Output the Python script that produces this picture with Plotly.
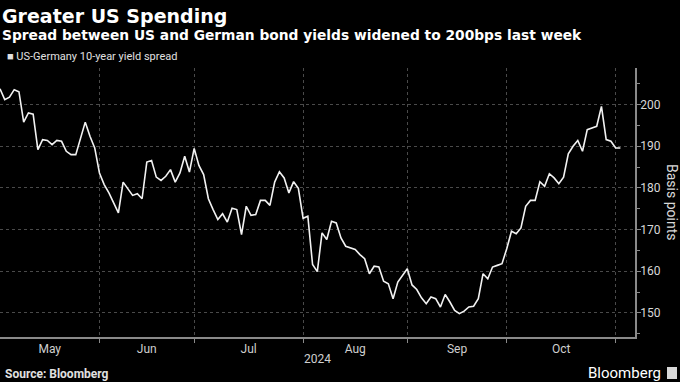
import pandas as pd
import plotly.graph_objects as go

# ---- data (basis points), one value per business day ----
start_date = "2024-05-03"
spread_bp = [
    203.8, 201.2, 201.8, 203.6, 203.1, 195.8, 198.0, 197.7, 189.2, 191.6,
    191.4, 190.4, 191.4, 191.2, 188.8, 188.0, 188.0, 191.8, 195.8, 192.4,
    189.6, 183.6, 180.8, 178.8, 176.3, 174.0, 181.4, 179.8, 178.2, 178.6,
    177.4, 186.2, 186.6, 182.6, 181.8, 182.8, 184.4, 181.4, 183.6, 187.6,
    183.8, 189.5, 185.4, 183.2, 177.4, 174.8, 172.4, 173.8, 171.8, 175.1,
    174.8, 168.8, 175.6, 173.4, 173.6, 177.0, 177.0, 175.8, 181.4, 183.9,
    182.4, 178.8, 181.5, 179.9, 172.7, 173.2, 161.6, 159.9, 169.2, 167.6,
    172.0, 171.6, 168.0, 166.0, 165.6, 165.2, 164.0, 163.0, 159.4, 161.2,
    161.0, 157.6, 157.0, 153.4, 157.4, 159.0, 160.6, 156.7, 155.6, 153.6,
    152.2, 153.8, 153.4, 151.4, 154.4, 152.6, 150.6, 149.8, 150.4, 151.4,
    151.6, 153.4, 159.4, 158.2, 161.0, 161.4, 161.8, 165.4, 169.6, 169.0,
    170.4, 175.6, 177.0, 177.0, 181.5, 180.4, 183.4, 182.4, 181.0, 182.6,
    188.2, 190.0, 191.4, 188.8, 194.0, 194.4, 194.8, 199.6, 191.6, 191.2,
    189.6, 189.6,
]
dates = pd.bdate_range(start_date, periods=len(spread_bp))

month_labels = ["May", "Jun", "Jul", "Aug", "Sep", "Oct"]
month_starts = ["2024-06-03", "2024-07-01", "2024-08-01", "2024-09-02",
                "2024-10-01", "2024-11-01"]
y_ticks = [150, 160, 170, 180, 190, 200]
x_end = "2024-11-07 02:00"

# ---- geometry helpers ----
W, H = 680, 382
L, R, T, B = 0, 45, 68, 45
PH = H - T - B
PW = W - L - R


def py(ypx):
    return (H - B - ypx) / PH


def px(xpx):
    return (xpx - L) / PW


def bday_pos(start, k):
    whole = int(k)
    frac = k - whole
    d = pd.Timestamp(start) + pd.offsets.BDay(whole)
    return d + pd.Timedelta(hours=24 * frac)


# month label positions: middle of each month's visible business-day span
bounds = [pd.Timestamp(start_date)] + [pd.Timestamp(s) for s in month_starts]
label_pos = []
for a, b in zip(bounds[:-1], bounds[1:]):
    n = len(pd.bdate_range(a, b)) - 1
    label_pos.append(bday_pos(a, n / 2))

fig = go.Figure()
fig.add_trace(go.Scatter(
    x=dates, y=spread_bp, mode="lines",
    line=dict(color="#f2f2f2", width=1.6),
    name="US-Germany 10-year yield spread",
    hoverinfo="x+y",
))

grid_col = "#4a4a4a"
axis_col = "#8a8a8a"
font_fam = "Roboto, 'Noto Sans', sans-serif"
title_fam = "'DejaVu Sans', sans-serif"

fig.update_layout(
    width=W, height=H,
    margin=dict(l=L, r=R, t=T, b=B),
    paper_bgcolor="#000000", plot_bgcolor="#000000",
    showlegend=False,
    font=dict(family=font_fam, color="#d0d0d0", size=12),
    xaxis=dict(
        type="date",
        range=[start_date, x_end],
        rangebreaks=[dict(bounds=["sat", "mon"])],
        tickmode="array", tickvals=label_pos, ticktext=month_labels,
        ticks="", showgrid=False,
        showline=True, linecolor=axis_col, linewidth=1.5,
        tickfont=dict(size=12, color="#cfcfcf"),
        zeroline=False,
        minor=dict(tickmode="array", tickvals=month_starts,
                   showgrid=True, gridcolor=grid_col, griddash="dot",
                   gridwidth=1, ticks="outside", ticklen=4,
                   tickcolor=axis_col, tickwidth=1),
    ),
    yaxis=dict(
        side="right",
        range=[144.2, 208.8],
        tickmode="array", tickvals=y_ticks,
        showgrid=True, gridcolor=grid_col, griddash="dot", gridwidth=1,
        showline=True, linecolor=axis_col, linewidth=1.5,
        ticks="outside", ticklen=4, tickcolor=axis_col, tickwidth=1,
        ticklabelstandoff=-3,
        tickfont=dict(size=12, color="#d8d8d8"),
        zeroline=False,
        minor=dict(dtick=5, tick0=145, ticks="outside", ticklen=3,
                   tickcolor=axis_col, showgrid=False),
    ),
)

ann = [
    dict(text="<b>Greater US Spending</b>", x=px(0), y=py(16),
         font=dict(size=19, color="#ffffff", family=title_fam)),
    dict(text="<b>Spread between US and German bond yields widened to 200bps last week</b>",
         x=px(0), y=py(35), font=dict(size=13.8, color="#ffffff", family=title_fam)),
    dict(text="■ US-Germany 10-year yield spread", x=px(5), y=py(57),
         font=dict(size=11, color="#e0e0e0")),
    dict(text="2024", x=0.5, xanchor="center", y=py(359),
         font=dict(size=12, color="#cfcfcf")),
    dict(text="<b>Source: Bloomberg</b>", x=px(3), y=py(374),
         font=dict(size=12, color="#e0e0e0")),
    dict(text="Bloomberg", x=px(663), xanchor="right", y=py(373),
         font=dict(size=15, color="#ffffff")),
    dict(text="Basis points", x=px(672), xanchor="center", y=py(202),
         textangle=90, font=dict(size=14, color="#d8d8d8")),
]
for a in ann:
    a.setdefault("xanchor", "left")
    a.update(xref="paper", yref="paper", yanchor="middle", showarrow=False)
    fig.add_annotation(**a)

# small logo mark next to "Bloomberg"
fig.add_shape(type="rect", xref="paper", yref="paper",
              x0=px(667), x1=px(677), y0=py(379), y1=py(367),
              fillcolor="#d8d8d8", line=dict(width=0))

fig.write_html("out.html",
               config={"displayModeBar": False},
               post_script="document.body.style.margin='0';document.body.style.overflow='hidden';")
